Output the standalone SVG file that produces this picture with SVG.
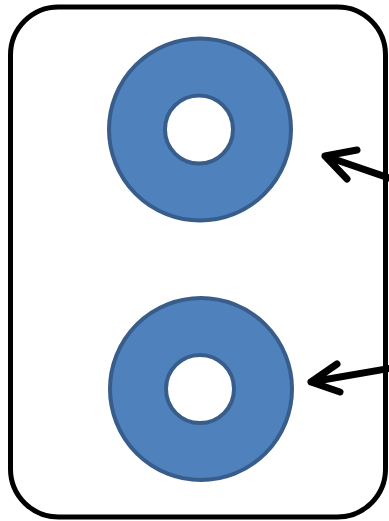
<svg xmlns="http://www.w3.org/2000/svg" width="389" height="521" viewBox="0 0 389 521">
<style>
.frame{fill:#fff;stroke:#000;stroke-width:5}
.outer{fill:#4F81BD;stroke:#385D8A;stroke-width:4}
.inner{fill:#fff;stroke:#385D8A;stroke-width:4}
.conn{fill:none;stroke:#000;stroke-width:7;stroke-linecap:round;stroke-linejoin:round}
</style>
<rect width="389" height="521" fill="#fff"/>
<g id="frame"><rect class="frame" x="10.5" y="7" width="375" height="510" rx="48" ry="48"/></g>
<g id="donut1"><circle class="outer" cx="200" cy="129.5" r="91"/><circle class="inner" cx="199" cy="129.5" r="34"/></g>
<g id="donut2"><circle class="outer" cx="201" cy="389" r="91"/><circle class="inner" cx="200" cy="389" r="34"/></g>
<g id="connectors">
<path class="conn" d="M392 179 L325 156 M357 150 L325 156 L347 179"/>
<path class="conn" d="M392 368 L311 382 M337 364 L311 382 L340 392"/>
</g>
</svg>
